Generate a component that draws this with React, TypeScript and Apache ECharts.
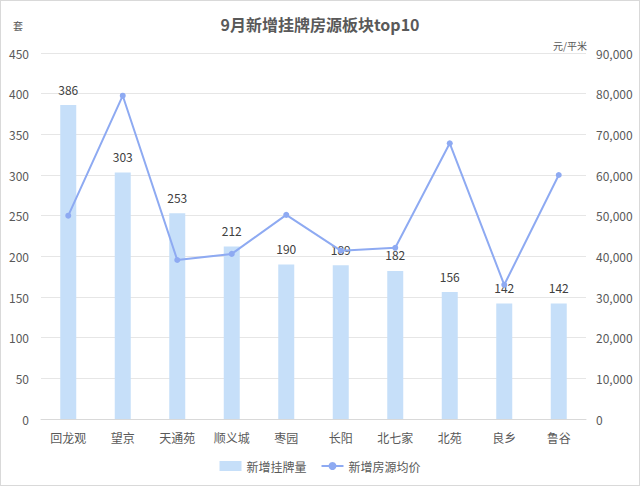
import React, { useEffect, useRef } from "react";
import * as echarts from "echarts";

const categories = ["回龙观", "望京", "天通苑", "顺义城", "枣园", "长阳", "北七家", "北苑", "良乡", "鲁谷"];
const listingCounts = [386, 303, 253, 212, 190, 189, 182, 156, 142, 142];
const avgPrices = [50000, 79500, 39100, 40600, 50200, 41400, 42100, 67800, 33000, 60000];
const leftTicks = { min: 0, max: 450, interval: 50 };
const rightTicks = { min: 0, max: 90000, interval: 10000 };
const leftUnit = "套";
const rightUnit = "元/平米";

const FONT = "'Noto Sans CJK SC', 'Noto Sans', sans-serif";

export default function App() {
  const ref = useRef<HTMLDivElement>(null);
  useEffect(() => {
    document.body.style.margin = "0";
    const chart = echarts.init(ref.current!, null, { renderer: "svg" });
    chart.setOption({
      animation: false,
      backgroundColor: "#ffffff",
      textStyle: { fontFamily: FONT },
      title: {
        text: "9月新增挂牌房源板块top10",
        left: "center",
        top: 10,
        textStyle: { fontSize: 16, fontWeight: "bold", color: "#595959", fontFamily: FONT },
      },
      graphic: [
        {
          type: "text",
          left: 12,
          top: 19,
          style: { text: leftUnit, fontSize: 10, fill: "#595959", fontFamily: FONT },
        },
        {
          type: "text",
          left: 552,
          top: 39,
          style: { text: rightUnit, fontSize: 10, fill: "#595959", fontFamily: FONT },
        },
      ],
      legend: {
        bottom: 8,
        left: "center",
        itemGap: 14,
        itemWidth: 22,
        itemHeight: 10,
        textStyle: { fontSize: 12, color: "#595959" },
        data: [
          { name: "新增挂牌量", icon: "rect" },
          { name: "新增房源均价" },
        ],
      },
      grid: { left: 40, right: 53, top: 52, bottom: 66, containLabel: false, outerBoundsMode: "none" },
      xAxis: {
        type: "category",
        data: categories,
        axisLine: { lineStyle: { color: "#d9d9d9" } },
        axisTick: { show: false },
        axisLabel: { color: "#595959", fontSize: 12, margin: 12 },
      },
      yAxis: [
        {
          type: "value",
          min: leftTicks.min,
          max: leftTicks.max,
          interval: leftTicks.interval,
          axisLine: { show: false },
          axisTick: { show: false },
          axisLabel: { color: "#595959", fontSize: 12, margin: 12 },
          splitLine: { lineStyle: { color: "#e6e6e6" } },
        },
        {
          type: "value",
          min: rightTicks.min,
          max: rightTicks.max,
          interval: rightTicks.interval,
          axisLine: { show: false },
          axisTick: { show: false },
          axisLabel: {
            color: "#595959",
            fontSize: 12,
            margin: 10,
            formatter: (v: number) => v.toLocaleString("en-US"),
          },
          splitLine: { show: false },
        },
      ],
      series: [
        {
          name: "新增挂牌量",
          type: "bar",
          data: listingCounts,
          barWidth: 16,
          itemStyle: { color: "#c6dff9" },
          label: { show: true, position: "top", color: "#404040", fontSize: 12, distance: 10 },
        },
        {
          name: "新增房源均价",
          type: "line",
          yAxisIndex: 1,
          data: avgPrices,
          symbol: "circle",
          symbolSize: 6,
          lineStyle: { color: "#8eaaf2", width: 2 },
          itemStyle: { color: "#8eaaf2" },
        },
      ],
    });
    return () => chart.dispose();
  }, []);
  return (
    <div
      style={{
        position: "absolute",
        left: 0,
        top: 0,
        width: 638,
        height: 484,
        border: "1px solid #d9d9d9",
        background: "#fff",
      }}
    >
      <div ref={ref} style={{ width: 638, height: 484 }} />
    </div>
  );
}
